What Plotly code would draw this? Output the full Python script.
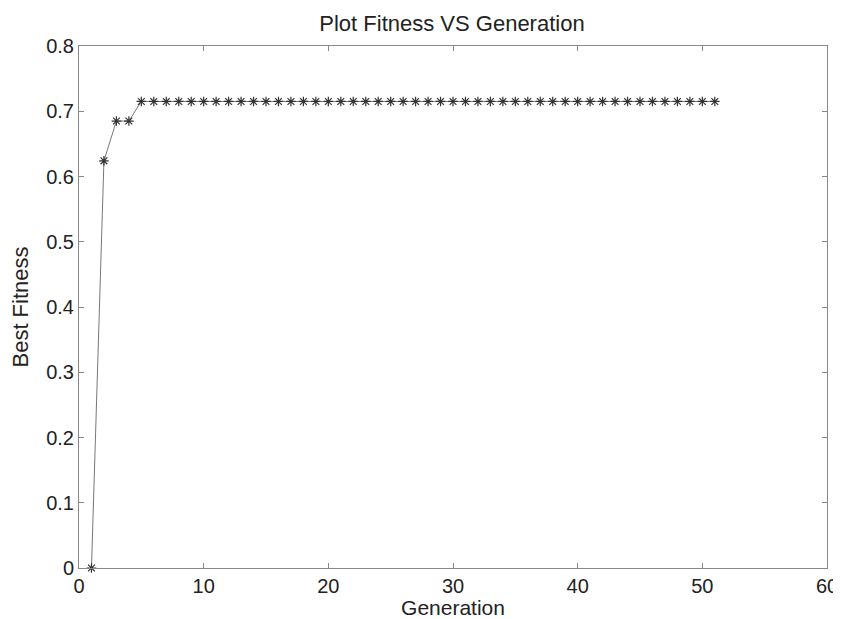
import plotly.graph_objects as go

generations = list(range(1, 52))
best_fitness = [0.0, 0.624, 0.685, 0.685] + [0.715] * 47

x_ticks = [0, 10, 20, 30, 40, 50, 60]
y_ticks = [0, 0.1, 0.2, 0.3, 0.4, 0.5, 0.6, 0.7, 0.8]

fig = go.Figure()
fig.add_trace(go.Scatter(
    x=generations, y=best_fitness, mode="lines+markers",
    line=dict(color="#777777", width=1),
    marker=dict(symbol="asterisk-open", size=8, color="#333333",
                line=dict(color="#333333", width=1.2)),
    cliponaxis=False, showlegend=False,
))

font = "Liberation Sans, Arial, sans-serif"
axis_common = dict(
    showgrid=False, zeroline=False, showline=True, linecolor="#888888",
    linewidth=1, mirror="ticks", ticks="inside", ticklen=5,
    tickcolor="#888888", tickfont=dict(family=font, size=20, color="#222222"),
)
fig.update_xaxes(range=[0, 60], tickvals=x_ticks,
                 ticktext=[str(v) for v in x_ticks],
                 title=dict(text="Generation", font=dict(family=font, size=21, color="#222222"), standoff=2),
                 **axis_common)
fig.update_yaxes(range=[0, 0.8], tickvals=y_ticks,
                 ticktext=["0" if v == 0 else f"{v:.1f}" for v in y_ticks],
                 title=dict(text="Best Fitness", font=dict(family=font, size=22, color="#222222"), standoff=14),
                 **axis_common)
fig.update_layout(
    width=833, height=611,
    margin=dict(l=71, r=14, t=38, b=51, autoexpand=False),
    paper_bgcolor="white", plot_bgcolor="white",
    title=dict(text="Plot Fitness VS Generation", x=0.533, xanchor="center",
               y=0.975, yanchor="middle",
               font=dict(family=font, size=22, color="#222222")),
)
fig.write_html("out.html")
